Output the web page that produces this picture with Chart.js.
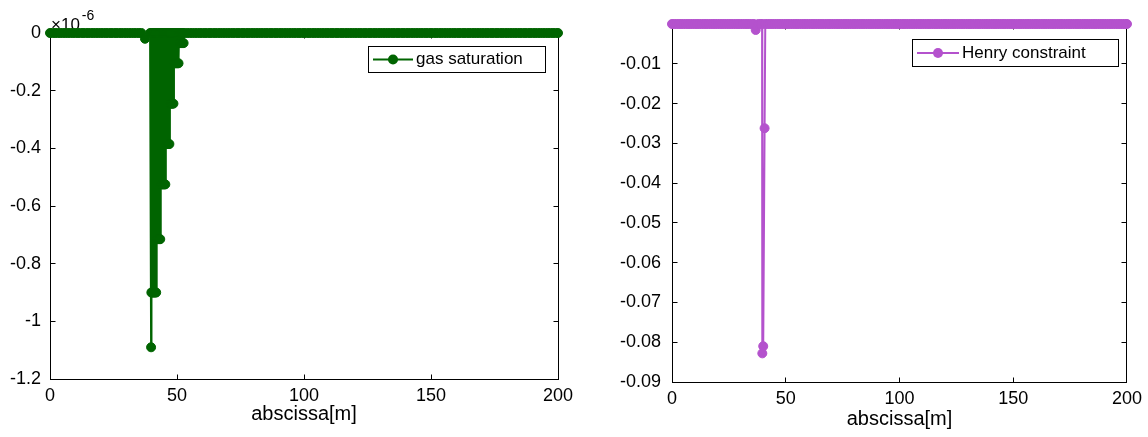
<!DOCTYPE html>
<html lang="en">
<head>
<meta charset="utf-8">
<title>gas saturation / Henry constraint</title>
<script src="https://cdn.jsdelivr.net/npm/chart.js@4.4.1/dist/chart.umd.min.js"></script>
<style>
  html, body { margin: 0; padding: 0; background: #ffffff; }
  #figure { position: relative; width: 1148px; height: 437px; overflow: hidden; background: #ffffff; }
  #figure canvas { position: absolute; top: 0; }
</style>
</head>
<body>
<div id="figure">
  <canvas id="gasChart" style="left:0px"></canvas>
  <canvas id="henryChart" style="left:600px"></canvas>
</div>
<script>
// ---- data -------------------------------------------------------------
// abscissa [m] of every stored point, gas saturation in units of 1e-6
const gasX = [
  0, 1, 2, 3, 4, 5, 6, 7, 8, 9,
  10, 11, 12, 13, 14, 15, 16, 17, 18, 19,
  20, 21, 22, 23, 24, 25, 26, 27, 28, 29,
  30, 31, 32, 33, 34, 35, 36, 37.4, 39.4, 39.8,
  39.9, 40.0, 40.2, 40.4, 40.6, 40.8, 41.0, 41.2, 41.4, 41.6,
  41.8, 42.0, 42.2, 42.4, 42.6, 42.8, 43.0, 43.2, 43.4, 43.6,
  43.8, 44.0, 44.2, 44.4, 44.6, 44.8, 45.0, 45.2, 45.4, 45.6,
  45.8, 46.0, 46.2, 46.4, 46.6, 46.8, 47.0, 47.2, 47.4, 47.6,
  47.8, 48.0, 48.2, 48.4, 48.6, 48.8, 49.0, 49.2, 49.4, 49.6,
  49.8, 50.0, 50.2, 50.4, 50.6, 50.8, 51.0, 51.2, 51.4, 51.6,
  51.8, 52.0, 52.2, 52.4, 52.6, 52.8, 54, 55, 56, 57,
  58, 59, 60, 61, 62, 63, 64, 65, 66, 67,
  68, 69, 70, 71, 72, 73, 74, 75, 76, 77,
  78, 79, 80, 81, 82, 83, 84, 85, 86, 87,
  88, 89, 90, 91, 92, 93, 94, 95, 96, 97,
  98, 99, 100, 101, 102, 103, 104, 105, 106, 107,
  108, 109, 110, 111, 112, 113, 114, 115, 116, 117,
  118, 119, 120, 121, 122, 123, 124, 125, 126, 127,
  128, 129, 130, 131, 132, 133, 134, 135, 136, 137,
  138, 139, 140, 141, 142, 143, 144, 145, 146, 147,
  148, 149, 150, 151, 152, 153, 154, 155, 156, 157,
  158, 159, 160, 161, 162, 163, 164, 165, 166, 167,
  168, 169, 170, 171, 172, 173, 174, 175, 176, 177,
  178, 179, 180, 181, 182, 183, 184, 185, 186, 187,
  188, 189, 190, 191, 192, 193, 194, 195, 196, 197,
  198, 199, 200
];
const gasSaturation = [
  0, 0, 0, 0, 0, 0, 0, 0, 0, 0,
  0, 0, 0, 0, 0, 0, 0, 0, 0, 0,
  0, 0, 0, 0, 0, 0, 0, 0, 0, 0,
  0, 0, 0, 0, 0, 0, 0, -0.02, 0, -1.09,
  -0.9, 0, -0.9, 0, -0.9, 0, -0.9, 0, -0.9, 0,
  -0.9, 0, -0.715, 0, -0.715, 0, -0.715, 0, -0.715, 0,
  -0.525, 0, -0.525, 0, -0.525, 0, -0.525, 0, -0.525, 0,
  -0.385, 0, -0.385, 0, -0.385, 0, -0.385, 0, -0.245, 0,
  -0.245, 0, -0.245, 0, -0.245, 0, -0.105, 0, -0.105, 0,
  -0.105, 0, -0.105, 0, -0.105, 0, -0.035, 0, -0.035, 0,
  -0.035, 0, -0.035, 0, -0.035, 0, 0, 0, 0, 0,
  0, 0, 0, 0, 0, 0, 0, 0, 0, 0,
  0, 0, 0, 0, 0, 0, 0, 0, 0, 0,
  0, 0, 0, 0, 0, 0, 0, 0, 0, 0,
  0, 0, 0, 0, 0, 0, 0, 0, 0, 0,
  0, 0, 0, 0, 0, 0, 0, 0, 0, 0,
  0, 0, 0, 0, 0, 0, 0, 0, 0, 0,
  0, 0, 0, 0, 0, 0, 0, 0, 0, 0,
  0, 0, 0, 0, 0, 0, 0, 0, 0, 0,
  0, 0, 0, 0, 0, 0, 0, 0, 0, 0,
  0, 0, 0, 0, 0, 0, 0, 0, 0, 0,
  0, 0, 0, 0, 0, 0, 0, 0, 0, 0,
  0, 0, 0, 0, 0, 0, 0, 0, 0, 0,
  0, 0, 0, 0, 0, 0, 0, 0, 0, 0,
  0, 0, 0, 0, 0, 0, 0, 0, 0, 0,
  0, 0, 0
];

// abscissa [m] and Henry constraint residual
const henryX = [
  0, 1, 2, 3, 4, 5, 6, 7, 8, 9,
  10, 11, 12, 13, 14, 15, 16, 17, 18, 19,
  20, 21, 22, 23, 24, 25, 26, 27, 28, 29,
  30, 31, 32, 33, 34, 35, 36, 36.8, 38, 39,
  39.6, 39.7, 40.1, 40.7, 41.0, 42, 43, 44, 45, 46,
  47, 48, 49, 50, 51, 52, 53, 54, 55, 56,
  57, 58, 59, 60, 61, 62, 63, 64, 65, 66,
  67, 68, 69, 70, 71, 72, 73, 74, 75, 76,
  77, 78, 79, 80, 81, 82, 83, 84, 85, 86,
  87, 88, 89, 90, 91, 92, 93, 94, 95, 96,
  97, 98, 99, 100, 101, 102, 103, 104, 105, 106,
  107, 108, 109, 110, 111, 112, 113, 114, 115, 116,
  117, 118, 119, 120, 121, 122, 123, 124, 125, 126,
  127, 128, 129, 130, 131, 132, 133, 134, 135, 136,
  137, 138, 139, 140, 141, 142, 143, 144, 145, 146,
  147, 148, 149, 150, 151, 152, 153, 154, 155, 156,
  157, 158, 159, 160, 161, 162, 163, 164, 165, 166,
  167, 168, 169, 170, 171, 172, 173, 174, 175, 176,
  177, 178, 179, 180, 181, 182, 183, 184, 185, 186,
  187, 188, 189, 190, 191, 192, 193, 194, 195, 196,
  197, 198, 199, 200
];
const henryConstraint = [
  0, 0, 0, 0, 0, 0, 0, 0, 0, 0,
  0, 0, 0, 0, 0, 0, 0, 0, 0, 0,
  0, 0, 0, 0, 0, 0, 0, 0, 0, 0,
  0, 0, 0, 0, 0, 0, 0, -0.0015, 0, 0,
  0, -0.0828, -0.081, -0.0262, 0, 0, 0, 0, 0, 0,
  0, 0, 0, 0, 0, 0, 0, 0, 0, 0,
  0, 0, 0, 0, 0, 0, 0, 0, 0, 0,
  0, 0, 0, 0, 0, 0, 0, 0, 0, 0,
  0, 0, 0, 0, 0, 0, 0, 0, 0, 0,
  0, 0, 0, 0, 0, 0, 0, 0, 0, 0,
  0, 0, 0, 0, 0, 0, 0, 0, 0, 0,
  0, 0, 0, 0, 0, 0, 0, 0, 0, 0,
  0, 0, 0, 0, 0, 0, 0, 0, 0, 0,
  0, 0, 0, 0, 0, 0, 0, 0, 0, 0,
  0, 0, 0, 0, 0, 0, 0, 0, 0, 0,
  0, 0, 0, 0, 0, 0, 0, 0, 0, 0,
  0, 0, 0, 0, 0, 0, 0, 0, 0, 0,
  0, 0, 0, 0, 0, 0, 0, 0, 0, 0,
  0, 0, 0, 0, 0, 0, 0, 0, 0, 0,
  0, 0, 0, 0, 0, 0, 0, 0, 0, 0,
  0, 0, 0, 0
];

// tick values
const xTickValues = [0, 50, 100, 150, 200];
const gasTickValues = [0, -0.2, -0.4, -0.6, -0.8, -1, -1.2];
const henryTickValues = [-0.01, -0.02, -0.03, -0.04, -0.05, -0.06, -0.07, -0.08, -0.09];

// ---- styling ----------------------------------------------------------
const FONT = '"Liberation Sans", Arial, Helvetica, sans-serif';
Chart.defaults.font.family = FONT;
Chart.defaults.color = '#000000';

// gnuplot-like frame: full border with inward ticks on all four sides
const framePlugin = {
  id: 'frame',
  beforeDatasetsDraw(chart) {
    const { ctx, chartArea: a, scales: { x, y } } = chart;
    const L = Math.floor(a.left) + 0.5, R = Math.floor(a.right) + 0.5;
    const T = Math.floor(a.top) + 0.5, B = Math.floor(a.bottom) + 0.5;
    const len = 5;
    ctx.save();
    ctx.strokeStyle = '#000000';
    ctx.lineWidth = 1;
    ctx.strokeRect(L, T, R - L, B - T);
    ctx.beginPath();
    for (const t of x.ticks) {
      const px = Math.floor(x.getPixelForValue(t.value)) + 0.5;
      ctx.moveTo(px, B); ctx.lineTo(px, B - len);
      ctx.moveTo(px, T); ctx.lineTo(px, T + len);
    }
    for (const t of y.ticks) {
      const py = Math.floor(y.getPixelForValue(t.value)) + 0.5;
      ctx.moveTo(L, py); ctx.lineTo(L + len, py);
      ctx.moveTo(R, py); ctx.lineTo(R - len, py);
    }
    ctx.stroke();
    ctx.restore();
  }
};

// scale factor note above the y axis (×10^-6)
const exponentPlugin = {
  id: 'exponent',
  beforeDatasetsDraw(chart, args, o) {
    if (!o || !o.text) return;
    const { ctx } = chart;
    ctx.save();
    ctx.fillStyle = '#000000';
    ctx.textBaseline = 'alphabetic';
    ctx.textAlign = 'left';
    ctx.font = `${o.size}px ${FONT}`;
    ctx.fillText(o.text, o.x, o.y);
    const w = ctx.measureText(o.text).width;
    ctx.font = `${o.supSize}px ${FONT}`;
    ctx.fillText(o.sup, o.x + w + o.supGap, o.y - o.supRise);
    ctx.restore();
  }
};

// boxed key with line sample and marker
const keyPlugin = {
  id: 'key',
  afterDatasetsDraw(chart, args, o) {
    if (!o || !o.box) return;
    const { ctx } = chart;
    const ds = chart.data.datasets[0];
    const b = o.box;
    ctx.save();
    ctx.strokeStyle = '#000000';
    ctx.lineWidth = 1;
    ctx.strokeRect(Math.round(b.x) + 0.5, Math.round(b.y) + 0.5, b.w, b.h);
    const cy = b.y + b.h / 2 + 0.5;
    ctx.strokeStyle = ds.borderColor;
    ctx.lineWidth = ds.borderWidth;
    ctx.beginPath();
    ctx.moveTo(b.x + o.lineStart, cy);
    ctx.lineTo(b.x + o.lineStart + o.lineLen, cy);
    ctx.stroke();
    ctx.fillStyle = ds.pointBackgroundColor;
    ctx.beginPath();
    ctx.arc(b.x + o.lineStart + o.lineLen / 2, cy, ds.pointRadius + ds.pointBorderWidth / 2, 0, Math.PI * 2);
    ctx.fill();
    ctx.fillStyle = '#000000';
    ctx.font = `${o.size}px ${FONT}`;
    ctx.textBaseline = 'middle';
    ctx.textAlign = 'left';
    ctx.fillText(ds.label, b.x + o.textStart, cy);
    ctx.restore();
  }
};

function buildChart(p) {
  const canvas = document.getElementById(p.id);
  canvas.width = p.width;
  canvas.height = 437;
  canvas.style.width = p.width + 'px';
  canvas.style.height = '437px';
  const points = p.xs.map((x, i) => ({ x: x, y: p.ys[i] }));
  return new Chart(canvas, {
    type: 'line',
    data: {
      datasets: [{
        label: p.label,
        data: points,
        borderColor: p.color,
        backgroundColor: p.color,
        pointBackgroundColor: p.color,
        pointBorderColor: p.color,
        borderWidth: 2,
        pointRadius: 4.5,
        pointBorderWidth: 1,
        pointHoverRadius: 4.5,
        tension: 0,
        fill: false,
        clip: false
      }]
    },
    options: {
      responsive: false,
      animation: false,
      devicePixelRatio: 1,
      events: [],
      layout: { padding: { left: 0, top: p.area.top, right: p.width - p.area.right, bottom: 0 } },
      plugins: {
        legend: { display: false },
        tooltip: { enabled: false },
        frame: {},
        key: p.key,
        exponent: p.exponent
      },
      scales: {
        x: {
          type: 'linear', min: 0, max: 200,
          grid: { display: false, drawTicks: false },
          border: { display: false },
          afterBuildTicks: s => { s.ticks = xTickValues.map(v => ({ value: v })); },
          afterFit: s => { s.height = 437 - p.area.bottom; },
          ticks: { padding: p.xLabelPad, font: { size: p.tickSize }, maxRotation: 0, autoSkip: false },
          title: { display: true, text: 'abscissa[m]', font: { size: 20 }, padding: { top: 0, bottom: p.titlePad } }
        },
        y: {
          type: 'linear', min: p.yMin, max: 0,
          grid: { display: false, drawTicks: false },
          border: { display: false },
          afterBuildTicks: s => { s.ticks = p.yTicks.map(v => ({ value: v })); },
          afterFit: s => { s.width = p.area.left; },
          ticks: { padding: p.yLabelPad, font: { size: p.tickSize }, autoSkip: false, callback: p.yFormat }
        }
      }
    },
    plugins: [framePlugin, exponentPlugin, keyPlugin]
  });
}

buildChart({
  id: 'gasChart', width: 600,
  xs: gasX, ys: gasSaturation,
  label: 'gas saturation', color: '#006400',
  yMin: -1.2, yTicks: gasTickValues,
  yFormat: v => String(Number(v.toFixed(1))),
  area: { left: 50, right: 558, top: 33, bottom: 379 },
  tickSize: 18, xLabelPad: 6, yLabelPad: 9, titlePad: 11,
  key: { box: { x: 368, y: 46, w: 177, h: 26 }, lineStart: 5, lineLen: 40, textStart: 48, size: 17 },
  exponent: { text: '\u00d710', sup: '-6', x: 51, y: 30, size: 17, supSize: 14, supGap: 2, supRise: 10 }
});

buildChart({
  id: 'henryChart', width: 548,
  xs: henryX, ys: henryConstraint,
  label: 'Henry constraint', color: '#b452cd',
  yMin: -0.09, yTicks: henryTickValues,
  yFormat: v => String(Number(v.toFixed(2))),
  area: { left: 72, right: 531, top: 24, bottom: 382 },
  tickSize: 18, xLabelPad: 6, yLabelPad: 11, titlePad: 6,
  key: { box: { x: 312, y: 39, w: 206, h: 27 }, lineStart: 5, lineLen: 42, textStart: 50, size: 17 },
  exponent: false
});
</script>
</body>
</html>
